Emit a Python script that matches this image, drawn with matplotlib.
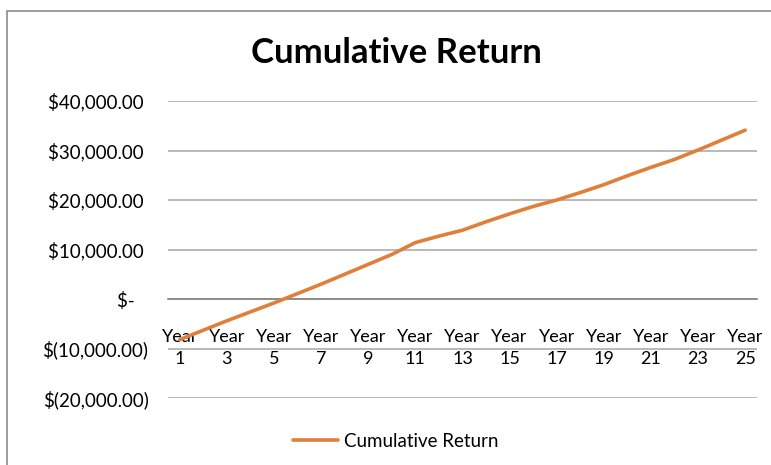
import matplotlib.pyplot as plt
from matplotlib.patches import Rectangle

# data
years = list(range(1, 26))
cum_return = [-8200, -6300, -4400, -2600, -800, 1100, 3000, 5000, 7000, 9000,
              11400, 12700, 13900, 15600, 17200, 18700, 20000, 21500, 23100,
              24900, 26600, 28200, 30100, 32100, 34100]
y_ticks = [-20000, -10000, 0, 10000, 20000, 30000, 40000]
shown_years = years[::2]

plt.rcParams['font.family'] = ['Lato', 'DejaVu Sans']


def money(v):
    if v == 0:
        return "$-   "
    if v < 0:
        return "$({:,.2f})".format(-v)
    return "${:,.2f} ".format(v)


fig = plt.figure(figsize=(7.71, 4.65), dpi=100)

# outer chart frame (Excel style)
fig.patches.append(Rectangle((7 / 771, -0.05), 1.0, 1 - 11 / 465 + 0.05,
                             transform=fig.transFigure, fill=False,
                             edgecolor="#8c8c8c", linewidth=1.2))

ax = fig.add_axes([168 / 771, 1 - 398 / 465, 589 / 771, 297 / 465])

# spines first: set_position resets the ticks
for s in ["top", "right", "left"]:
    ax.spines[s].set_visible(False)
ax.spines["bottom"].set_position(("data", 0))
ax.spines["bottom"].set_color("#868686")
ax.spines["bottom"].set_linewidth(1.2)

line, = ax.plot(years, cum_return, color="#E07F3A", linewidth=2.6,
                solid_capstyle="round", label="Cumulative Return", zorder=3)

ax.tick_params(axis="both", length=0, colors="black")
ax.tick_params(axis="x", pad=21.5, labelsize=13)
ax.tick_params(axis="y", pad=14, labelsize=13.5)

ax.set_xlim(0.5, 25.5)
ax.set_ylim(-20000, 40000)
ax.set_yticks(y_ticks)
ax.set_yticklabels([money(v) for v in y_ticks])
ax.set_xticks(shown_years)
ax.set_xticklabels(["Year\n%d" % y for y in shown_years], linespacing=1.45)

ax.grid(axis="y", color="#a6a6a6", linewidth=1.1)
ax.set_axisbelow(True)

fig.text(396 / 771, 1 - 53 / 465, "Cumulative Return", fontsize=25,
         fontweight="bold", ha="center", va="center")

fig.legend(handles=[line], loc="center", bbox_to_anchor=(396 / 771, 1 - 441 / 465),
           frameon=False, fontsize=13.5, handlelength=2.4, handletextpad=0.3)

fig.savefig("out.png", dpi=100)
